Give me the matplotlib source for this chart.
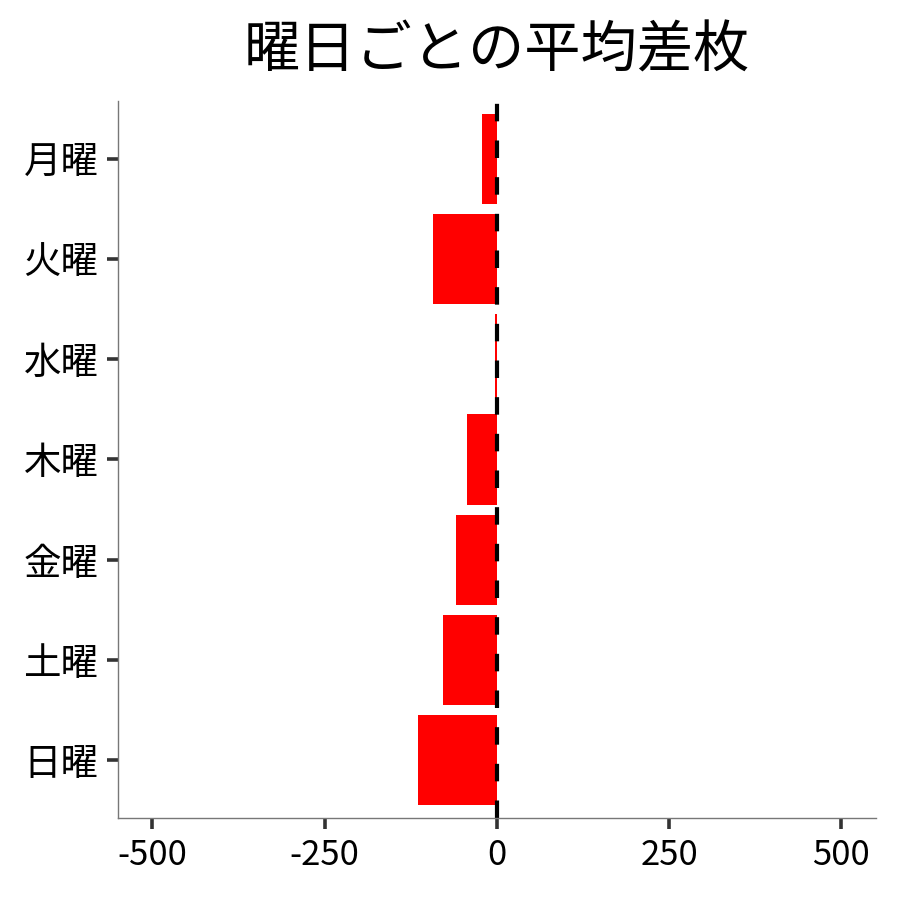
import numpy as np
from matplotlib import pyplot as plt

plt.rcParams['font.family'] = ['Noto Sans CJK JP', 'DejaVu Sans']

days = ['月曜', '火曜', '水曜', '木曜', '金曜', '土曜', '日曜']
avg_diff = [-21, -93, -2, -43, -59, -78, -114]
xticks = [-500, -250, 0, 250, 500]

fig = plt.figure(figsize=(9, 9), dpi=100)
ax = fig.add_axes([0.131, 0.091, 0.842, 0.797])

y = np.arange(len(days))
ax.barh(y, avg_diff, height=0.9, color='#ff0000')
ax.axvline(0, color='black', lw=3.0, dashes=(4.2, 4.6))

ax.set_xlim(-550, 550)
ax.set_ylim(len(days) - 1 + 0.58, -0.58)
ax.set_yticks(y)
ax.set_yticklabels(days)
ax.set_xticks(xticks)
ax.set_xticklabels([str(v) for v in xticks])

for s in ['top', 'right']:
    ax.spines[s].set_visible(False)
for s in ['left', 'bottom']:
    ax.spines[s].set_color('#777777')
    ax.spines[s].set_linewidth(1.0)
ax.tick_params(axis='both', colors='#333333', length=8, width=2.6, pad=6,
               labelsize=25, labelcolor='black')
ax.tick_params(axis='y', labelsize=27)

fig.text(0.552, 0.943, '曜日ごとの平均差枚', fontsize=40.5,
         ha='center', va='center')

fig.savefig('out.png', dpi=100)
